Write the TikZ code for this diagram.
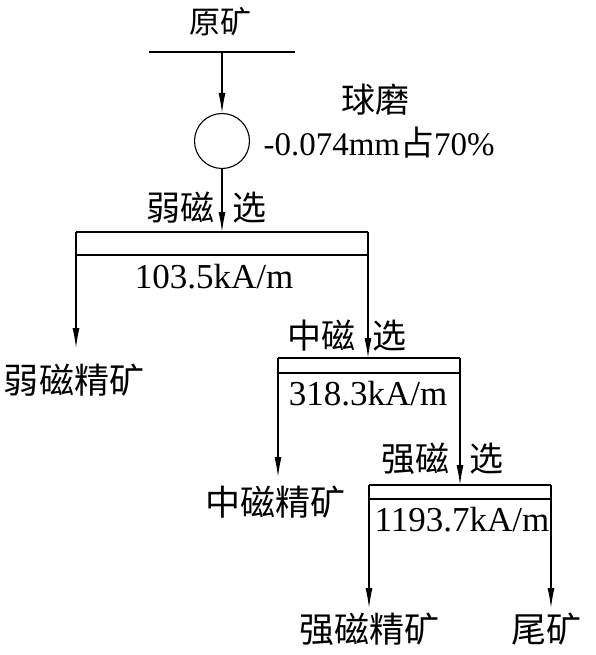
\documentclass[tikz,border=0pt]{standalone}
\usepackage{fontspec}
\setmainfont{Liberation Serif}
\newfontfamily\cjk{Noto Sans CJK SC}
\usetikzlibrary{arrows.meta}

\begin{document}
\begin{tikzpicture}[x=1pt,y=-1pt,line width=1.1pt,
		flow/.style={-{Latex[length=20pt,width=7pt]}},
		zh/.style={inner sep=0pt,font=\cjk\fontsize{34}{36}\selectfont},
		zhbig/.style={zh,font=\cjk\fontsize{35}{37}\selectfont},
		num/.style={inner sep=0pt,font=\fontsize{35}{38}\selectfont}]
	\useasboundingbox (0,0) rectangle (595,655);

	% feed and grinding
	\node[zh,font=\cjk\fontsize{31}{33}\selectfont] (ore) at (220,22) {原矿};
	\coordinate (fl) at (149,52);
	\coordinate (fr) at (295,52);
	\coordinate (feed) at (222,52);
	\draw (fl) -- (fr);
	\node[circle,draw,minimum size=55pt,inner sep=0pt] (mill) at (222,141) {};
	\node[zh] (millname) at (375,100) {球磨};
	\node[num,anchor=west,font=\fontsize{33}{36}\selectfont] (grind) at (263,143) {-0.074mm{\cjk\fontsize{34}{36}\selectfont 占}70\%};
	\draw[flow] (feed) -- (mill.north);

	% low intensity separation
	\coordinate (b1l) at (76,232);
	\coordinate (b1r) at (368,232);
	\coordinate (b1in) at (222,232);
	\draw (b1l) -- (b1r);
	\draw (76,255) -- (368,255);
	\draw[flow] (mill.south) -- (b1in);
	\node[zh] (lowa) at (180,208) {弱磁};
	\node[zh] (lowb) at (249,208) {选};
	\node[num] (field1) at (214,277) {103.5kA/m};
	\coordinate (c1) at (76,348);
	\draw[flow] (b1l) -- (c1);
	\node[zhbig] (conc1) at (74,380) {弱磁精矿};

	% medium intensity separation
	\coordinate (b2l) at (278,358);
	\coordinate (b2r) at (460,358);
	\coordinate (b2in) at (368,358);
	\draw (b2l) -- (b2r);
	\draw (278,373) -- (460,373);
	\draw[flow] (b1r) -- (b2in);
	\node[zh] (mida) at (321,336) {中磁};
	\node[zh] (midb) at (389,336) {选};
	\node[num] (field2) at (368,394) {318.3kA/m};
	\coordinate (c2) at (278,477);
	\draw[flow] (b2l) -- (c2);
	\node[zhbig] (conc2) at (275,502) {中磁精矿};

	% high intensity separation
	\coordinate (b3l) at (369,485);
	\coordinate (b3r) at (551,485);
	\coordinate (b3in) at (460,485);
	\draw (b3l) -- (b3r);
	\draw (369,499) -- (551,499);
	\draw[flow] (b2r) -- (b3in);
	\node[zh] (higha) at (415,459) {强磁};
	\node[zh] (highb) at (486,459) {选};
	\node[num] (field3) at (462,520) {1193.7kA/m};
	\coordinate (c3) at (369,608);
	\coordinate (t3) at (551,608);
	\draw[flow] (b3l) -- (c3);
	\draw[flow] (b3r) -- (t3);
	\node[zhbig] (conc3) at (369,629) {强磁精矿};
	\node[zhbig] (tail) at (546,629) {尾矿};
\end{tikzpicture}
\end{document}
